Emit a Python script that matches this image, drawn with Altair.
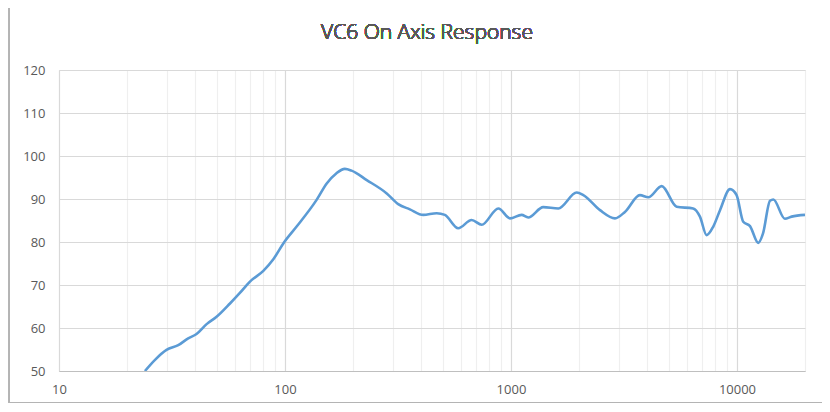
import altair as alt
import pandas as pd

# Frequency (Hz) and SPL (dB)
freq = [24.0, 26.6, 29.9, 33.7, 37.3, 40.6, 45.0, 49.8, 57.1, 63.0, 70.0, 80.2, 88.8,
        99.3, 112.6, 138, 153, 169, 184, 197, 230, 282, 317, 357, 409,
        469, 510, 584, 670, 742, 879, 991, 1114, 1192, 1389, 1620, 1953, 2090,
        2477, 2885, 3193, 3721, 4053, 4645, 5409, 6398, 6858, 7343, 7856, 8413,
        9317, 9961, 10660, 11420, 12420, 13040, 14000, 14490, 16290, 17450, 20000]
spl = [50.0, 52.6, 54.9, 56.0, 57.6, 58.6, 60.9, 62.6, 65.7, 68.1, 70.8, 73.3, 76.0,
       80.0, 83.6, 89.8, 93.6, 96.0, 97.0, 96.6, 94.4, 91.3, 88.8, 87.6, 86.3,
       86.7, 86.3, 83.2, 85.1, 84.0, 87.8, 85.5, 86.3, 85.7, 88.1, 87.8, 91.5, 90.9,
       87.4, 85.5, 87.0, 90.9, 90.4, 93.0, 88.2, 87.8, 85.9, 81.6, 83.6, 87.4,
       92.3, 90.9, 84.7, 83.7, 79.8, 82.0, 89.6, 89.9, 85.4, 85.9, 86.3]

x_ticks = [10, 20, 30, 40, 50, 60, 70, 80, 90,
           100, 200, 300, 400, 500, 600, 700, 800, 900,
           1000, 2000, 3000, 4000, 5000, 6000, 7000, 8000, 9000,
           10000, 20000]
x_major = [10, 100, 1000, 10000]
y_ticks = [50, 60, 70, 80, 90, 100, 110, 120]

df = pd.DataFrame({"freq": freq, "spl": spl})

major_test = "indexof(" + str(x_major) + ", datum.value) >= 0"

line = alt.Chart(df).mark_line(
    color="#5b9bd5", strokeWidth=2.6, interpolate="monotone", clip=True
).encode(
    x=alt.X("freq:Q",
            scale=alt.Scale(type="log", domain=[10, 20000], nice=False),
            axis=alt.Axis(values=x_ticks, format="d", title=None,
                          labelExpr=major_test + " ? datum.label : ''",
                          grid=True,
                          gridColor={"condition": {"test": major_test, "value": "#d9d9d9"},
                                     "value": "#efefef"},
                          gridWidth=1.2,
                          ticks=False, domain=True, domainColor="#bfbfbf", domainWidth=1.2,
                          labelPadding=12, labelFontSize=13, labelColor="#595959",
                          labelFont="Open Sans", labelFlush=False, labelOverlap=False)),
    y=alt.Y("spl:Q",
            scale=alt.Scale(domain=[50, 120], nice=False, zero=False),
            axis=alt.Axis(values=y_ticks, title=None, grid=True, gridColor="#d9d9d9",
                          gridWidth=1.2, ticks=False, domain=False,
                          labelPadding=14, labelFontSize=13, labelColor="#595959",
                          labelFont="Open Sans")),
)

title = alt.Chart(df).mark_text(
    text="VC6 On Axis Response", fontSize=21, font="Open Sans", color="#595959",
    fontWeight=300, align="center", baseline="middle"
).encode(x=alt.value(368), y=alt.value(-37))

border_left = alt.Chart(df).mark_rule(color="#b4b4b4", strokeWidth=1).encode(
    x=alt.value(-50), y=alt.value(-62), y2=alt.value(333))
border_bottom = alt.Chart(df).mark_rule(color="#b4b4b4", strokeWidth=1).encode(
    x=alt.value(-50), x2=alt.value(763), y=alt.value(332.5))

chart = alt.layer(line, title, border_left, border_bottom).properties(
    width=746, height=301,
    autosize="none",
    padding={"left": 51, "top": 62, "right": 17, "bottom": 33},
).configure_view(strokeWidth=0).configure(background="white")

chart.save("out.html", embed_options={"renderer": "svg", "actions": False})
